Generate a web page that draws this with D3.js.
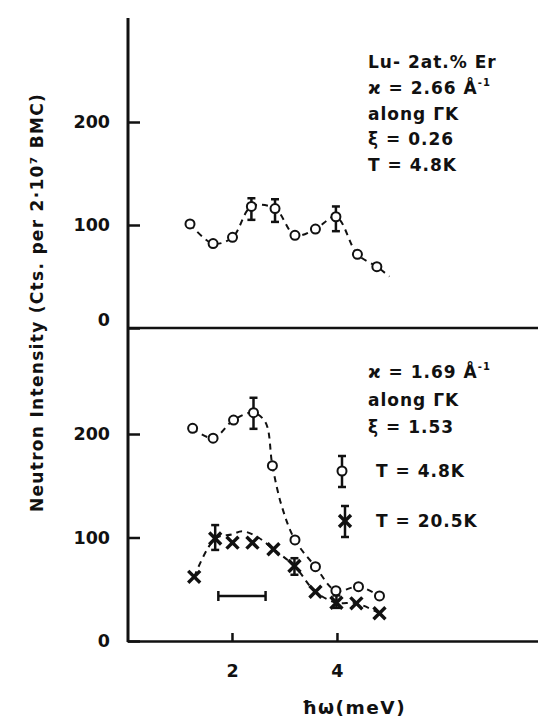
<!DOCTYPE html>
<html>
<head>
<meta charset="utf-8">
<script src="https://cdn.jsdelivr.net/npm/d3@7"></script>
<style>
  html, body { margin: 0; padding: 0; background: #fff; }
  svg text { font-family: "DejaVu Sans", sans-serif; font-weight: bold; fill: #111; }
</style>
</head>
<body>
<svg id="chart" width="538" height="720"></svg>
<script>
// Energy transfer (meV) and neutron counts, Lu-2at.% Er
const topEnergy = [1.2, 1.64, 2.01, 2.37, 2.82, 3.2, 3.59, 3.98, 4.39, 4.76];
const topCounts = [101, 82, 88, 118, 116, 90, 96, 108, 71.5, 59.5];
const topGuide = [[1.2, 101], [1.64, 82], [2.01, 88], [2.37, 118], [2.82, 116], [3.2, 90], [3.59, 96], [3.98, 108], [4.39, 71.5], [4.76, 59.5], [5.0, 50]];
const topErrors = [[2.37, 105, 126], [2.82, 103, 125], [3.98, 94, 118]];

const lowEnergy = [1.25, 1.64, 2.03, 2.41, 2.77, 3.2, 3.59, 3.98, 4.41, 4.81];
const lowCounts = [205.5, 196, 213.5, 220.6, 169.4, 97.6, 71.8, 48.6, 52.5, 43.5];
const lowGuide = [[1.25, 205.5], [1.64, 196], [2.03, 213.5], [2.41, 220.6], [2.64, 211], [2.77, 169.4], [2.95, 130], [3.2, 97.6], [3.59, 71.8], [3.98, 48.6], [4.41, 52.5], [4.81, 43.5]];
const lowErrors = [[2.41, 205, 235]];

const hotEnergy = [1.28, 1.68, 2.01, 2.39, 2.79, 3.19, 3.59, 3.99, 4.37, 4.81];
const hotCounts = [62, 99, 95, 95, 88.6, 72.5, 47.6, 37, 36.4, 26.8];
const hotGuide = [[1.28, 62], [1.68, 99], [2.0, 103], [2.2, 106], [2.5, 100], [2.79, 88.6], [3.19, 72.5], [3.59, 47.6], [3.99, 37], [4.37, 36.4], [4.81, 26.8]];
const hotErrors = [[1.68, 88, 112], [3.19, 64, 80], [3.99, 32, 44]];

// instrumental resolution bar (meV) and its height (counts)
const resolution = [1.74, 2.64];
const resolutionLevel = 43.5;

const xTicks = [2, 4];
const yTicks = [0, 100, 200];

const svg = d3.select("#chart");
const x = d3.scaleLinear().domain([0, 7.83]).range([127, 538]);
const yTop = d3.scaleLinear().domain([0, 200]).range([328, 122]);
const yLow = d3.scaleLinear().domain([0, 200]).range([641, 434]);

const ink = "#111";
const tickFont = 17.5;

// frame lines
svg.append("line").attr("x1", 128).attr("x2", 128).attr("y1", 18).attr("y2", 642)
  .attr("stroke", ink).attr("stroke-width", 3);
svg.append("line").attr("x1", 127).attr("x2", 538).attr("y1", yTop(0)).attr("y2", yTop(0))
  .attr("stroke", ink).attr("stroke-width", 2.5);

// y axes with inward ticks
function yAxis(scale) {
  const g = svg.append("g").attr("transform", "translate(128,0)")
    .call(d3.axisLeft(scale).tickValues(yTicks).tickSize(-12).tickPadding(18).tickFormat(d3.format("d")));
  g.select(".domain").remove();
  g.selectAll(".tick line").attr("stroke", ink).attr("stroke-width", 2.5);
  g.selectAll(".tick text").attr("font-size", tickFont).attr("font-family", "DejaVu Sans").attr("font-weight", "bold").attr("fill", ink);
  return g;
}
const gTop = yAxis(yTop);
gTop.selectAll(".tick").filter(d => d === 0).select("text").attr("dy", "-0.15em");
yAxis(yLow);

// x axis
const gx = svg.append("g").attr("transform", `translate(0,${yLow(0)})`)
  .call(d3.axisBottom(x).tickValues(xTicks).tickSize(-8).tickSizeOuter(0).tickPadding(24).tickFormat(d3.format("d")));
gx.select(".domain").attr("stroke", ink).attr("stroke-width", 2.5);
gx.selectAll(".tick line").attr("stroke", ink).attr("stroke-width", 2.5);
gx.selectAll(".tick text").attr("font-size", tickFont).attr("font-family", "DejaVu Sans").attr("font-weight", "bold").attr("fill", ink);

svg.append("text").attr("x", 354).attr("y", 714).attr("text-anchor", "middle")
  .attr("font-size", 18.5).attr("letter-spacing", 1.5).text("ħω(meV)");

svg.append("text").attr("transform", "translate(43,512) rotate(-90)")
  .attr("font-size", 17).attr("letter-spacing", 1.3).text("Neutron Intensity (Cts. per 2·10⁷ BMC)");

// dashed guide curves
function guide(points, scale) {
  svg.append("path")
    .datum(points)
    .attr("d", d3.line().x(d => x(d[0])).y(d => scale(d[1])).curve(d3.curveCatmullRom.alpha(0.5)))
    .attr("fill", "none").attr("stroke", ink).attr("stroke-width", 2)
    .attr("stroke-dasharray", "6,5");
}
guide(topGuide, yTop);
guide(lowGuide, yLow);
guide(hotGuide, yLow);

function errorBars(rows, scale) {
  const g = svg.append("g").attr("stroke", ink).attr("stroke-width", 2.5);
  rows.forEach(([e, lo, hi]) => {
    g.append("line").attr("x1", x(e)).attr("x2", x(e)).attr("y1", scale(lo)).attr("y2", scale(hi));
    [lo, hi].forEach(v => g.append("line").attr("x1", x(e) - 4).attr("x2", x(e) + 4).attr("y1", scale(v)).attr("y2", scale(v)));
  });
}
errorBars(topErrors, yTop);
errorBars(lowErrors, yLow);
errorBars(hotErrors, yLow);

const crossSymbol = d3.symbol().type(d3.symbolX).size(95);

function circles(es, vs, scale) {
  svg.append("g").selectAll("circle").data(es).join("circle")
    .attr("cx", d => x(d)).attr("cy", (d, i) => scale(vs[i])).attr("r", 4.5)
    .attr("fill", "#fff").attr("stroke", ink).attr("stroke-width", 2);
}
function crosses(es, vs, scale) {
  svg.append("g").selectAll("path").data(es).join("path")
    .attr("transform", (d, i) => `translate(${x(d)},${scale(vs[i])})`)
    .attr("d", crossSymbol).attr("fill", "none").attr("stroke", ink).attr("stroke-width", 3.4);
}
circles(topEnergy, topCounts, yTop);
circles(lowEnergy, lowCounts, yLow);
crosses(hotEnergy, hotCounts, yLow);

// resolution bar
const rb = svg.append("g").attr("stroke", ink).attr("stroke-width", 2.5);
rb.append("line").attr("x1", x(resolution[0])).attr("x2", x(resolution[1]))
  .attr("y1", yLow(resolutionLevel)).attr("y2", yLow(resolutionLevel));
resolution.forEach(e => rb.append("line").attr("x1", x(e)).attr("x2", x(e))
  .attr("y1", yLow(resolutionLevel) - 5).attr("y2", yLow(resolutionLevel) + 5));

// annotations
function label(lines, x0, y0, step) {
  lines.forEach((parts, i) => {
    const t = svg.append("text").attr("x", x0).attr("y", y0 + i * step)
      .attr("font-size", 17).attr("letter-spacing", 1);
    parts.forEach(p => {
      const s = t.append("tspan").text(p.t);
      if (p.sup) s.attr("font-size", 10).attr("dy", -8);
    });
  });
}
label([
  [{t: "Lu- 2at.% Er"}],
  [{t: "ϰ = 2.66 Å"}, {t: "-1", sup: true}],
  [{t: "along ΓK"}],
  [{t: "ξ = 0.26"}],
  [{t: "T = 4.8K"}]
], 368, 68, 25.8);
label([
  [{t: "ϰ = 1.69 Å"}, {t: "-1", sup: true}],
  [{t: "along ΓK"}],
  [{t: "ξ = 1.53"}]
], 368, 378, 27.5);

// legend
const legend = [
  {kind: "circle", text: "T = 4.8K", cy: 471, lo: 456, hi: 487},
  {kind: "cross", text: "T = 20.5K", cy: 521, lo: 506, hi: 537}
];
legend.forEach(l => {
  const cx = l.kind === "circle" ? 342 : 345;
  const g = svg.append("g").attr("stroke", ink).attr("stroke-width", 2.5);
  g.append("line").attr("x1", cx).attr("x2", cx).attr("y1", l.lo).attr("y2", l.hi);
  [l.lo, l.hi].forEach(v => g.append("line").attr("x1", cx - 4).attr("x2", cx + 4).attr("y1", v).attr("y2", v));
  if (l.kind === "circle") {
    svg.append("circle").attr("cx", cx).attr("cy", l.cy).attr("r", 4.5)
      .attr("fill", "#fff").attr("stroke", ink).attr("stroke-width", 2);
  } else {
    svg.append("path").attr("transform", `translate(${cx},${l.cy})`)
      .attr("d", crossSymbol).attr("fill", "none")
      .attr("stroke", ink).attr("stroke-width", 3.4);
  }
  svg.append("text").attr("x", 376).attr("y", l.cy + 6).attr("font-size", 17)
    .attr("letter-spacing", 1).text(l.text);
});
</script>
</body>
</html>
